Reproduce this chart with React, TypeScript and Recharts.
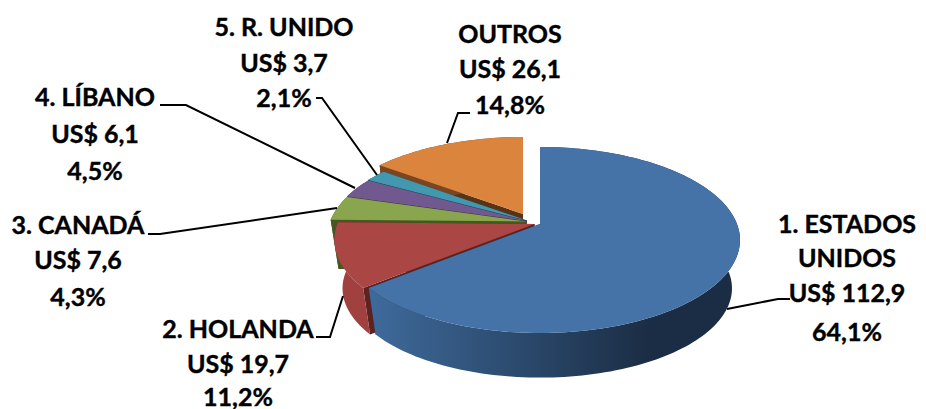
import React from "react";
import { PieChart, Pie } from "recharts";

// Painter's order: back slices first, counter-clockwise from 12 o'clock.
const sliceNames = ["OUTROS", "5. R. UNIDO", "4. LÍBANO", "3. CANADÁ", "2. HOLANDA", "1. ESTADOS UNIDOS"];
const sliceValues = [26.1, 3.7, 6.1, 7.6, 19.7, 112.9];
const slicePercents = ["14,8%", "2,1%", "4,5%", "4,3%", "11,2%", "64,1%"];

const data = sliceNames.map((name, i) => ({ name, value: sliceValues[i], percent: slicePercents[i] }));

// Styling and layout tables, by slice index
const topFill = ["#DB843D", "#4198AF", "#71588F", "#89A54E", "#AA4643", "#4572A7"];
const radialWall = ["#5a3216", "#1f5262", "#3b2c50", "#46571f", "#5e2220", "#22364f"];
const outerStops: string[][] = [
  ["#7a4520", "#7a4520"],
  ["#1f5262", "#1f5262"],
  ["#3b2c50", "#3b2c50"],
  ["#46571f", "#46571f"],
  ["#a1413f", "#8c3634"],
  ["#3e6a9b", "#1b2d44"],
];
const explode = [
  [-7, -8],
  [-3, -1.5],
  [-3, -1],
  [-3, -0.5],
  [4.5, 2],
  [10, 2],
];
const labelCenters = [510, 284, 95, 78, 238, 847];
const labelLineY: number[][] = [
  [33, 68, 104],
  [26, 62, 97],
  [96, 133, 170],
  [224, 259, 296],
  [328, 363, 396],
  [223, 257, 292, 331],
];
const leaders: number[][][] = [
  [[447, 143], [458, 113], [470, 113]],
  [[377, 175], [322, 98], [316, 98]],
  [[355, 188], [186, 105], [160, 105]],
  [[337, 208], [160, 234], [148, 234]],
  [[343, 296], [330, 337], [316, 337]],
  [[727, 309], [778, 299], [790, 299]],
];

const TILT = 0.458;
const PERSPECTIVE = 0.172;
const DEPTH = 49;
const BOTTOM_SCALE = 0.96;
const FONT = "Lato, 'Open Sans', sans-serif";

function project(aDeg: number, R: number, ax: number, ay: number, bottom: boolean) {
  const a = (aDeg * Math.PI) / 180;
  const u = Math.cos(a);
  const v = -Math.sin(a);
  const w = 1 - PERSPECTIVE * v;
  const s = bottom ? BOTTOM_SCALE : 1;
  return [ax + (s * R * u) / w, ay + (s * R * TILT * v) / w + (bottom ? DEPTH : 0)];
}

function arcPoints(a0: number, a1: number, R: number, ax: number, ay: number, bottom: boolean) {
  const n = Math.max(6, Math.ceil(Math.abs(a1 - a0) / 1.5));
  const out: number[][] = [];
  for (let i = 0; i <= n; i++) out.push(project(a0 + ((a1 - a0) * i) / n, R, ax, ay, bottom));
  return out;
}

const toPath = (pts: number[][]) =>
  "M" + pts.map((p) => `${p[0].toFixed(2)},${p[1].toFixed(2)}`).join("L") + "Z";

function SliceShape(props: any) {
  const { cx, cy, outerRadius, startAngle, endAngle, payload, name } = props;
  const idx = sliceNames.indexOf(payload?.name ?? name);
  const [ox, oy] = explode[idx];
  const ax = cx + ox;
  const ay = cy + oy;
  const top = arcPoints(startAngle, endAngle, outerRadius, ax, ay, false);
  const bot = arcPoints(startAngle, endAngle, outerRadius, ax, ay, true);
  const apexB = [ax, ay + DEPTH];
  const gid = `wall-${idx}`;
  return (
    <g>
      <defs>
        <linearGradient id={gid} gradientUnits="userSpaceOnUse" x1={ax - outerRadius * 0.85} y1={0} x2={ax + outerRadius * 0.55} y2={0}>
          <stop offset="0" stopColor={outerStops[idx][0]} />
          <stop offset="1" stopColor={outerStops[idx][1]} />
        </linearGradient>
      </defs>
      <path d={toPath([[ax, ay], top[0], bot[0], apexB])} fill={radialWall[idx]} />
      <path d={toPath([[ax, ay], top[top.length - 1], bot[bot.length - 1], apexB])} fill={radialWall[idx]} />
      <path d={toPath([...top, ...[...bot].reverse()])} fill={`url(#${gid})`} />
      <path d={toPath([[ax, ay], ...top])} fill={topFill[idx]} />
    </g>
  );
}

function SliceLabel(props: any) {
  const idx = sliceNames.indexOf(props.payload?.name ?? props.name);
  const name: string = sliceNames[idx];
  const nameLines = name === "1. ESTADOS UNIDOS" ? ["1. ESTADOS", "UNIDOS"] : [name];
  const lines = [...nameLines, `US$ ${sliceValues[idx].toFixed(1).replace(".", ",")}`, slicePercents[idx]];
  return (
    <g>
      {lines.map((t, i) => (
        <text
          key={i}
          x={labelCenters[idx]}
          y={labelLineY[idx][i]}
          textAnchor="middle"
          dominantBaseline="central"
          fontFamily={FONT}
          fontWeight={700}
          fontSize={25}
          stroke="#000"
          strokeWidth={0.4}
          fill="#000"
        >
          {t}
        </text>
      ))}
    </g>
  );
}

function SliceLeader(props: any) {
  const idx = sliceNames.indexOf(props.payload?.name ?? props.name);
  return (
    <polyline
      points={leaders[idx].map((p) => p.join(",")).join(" ")}
      fill="none"
      stroke="#000"
      strokeWidth={2}
    />
  );
}

export default function App() {
  return (
    <div style={{ position: "absolute", left: 0, top: 0, width: 926, height: 409, overflow: "hidden", background: "#fff" }}>
      <PieChart width={926} height={409} margin={{ top: 0, right: 0, bottom: 0, left: 0 }}>
        <Pie
          data={data}
          dataKey="value"
          nameKey="name"
          cx={530}
          cy={222}
          innerRadius={0}
          outerRadius={197}
          startAngle={90}
          endAngle={450}
          paddingAngle={0}
          stroke="none"
          isAnimationActive={false}
          shape={SliceShape}
          label={SliceLabel}
          labelLine={SliceLeader}
        />
      </PieChart>
    </div>
  );
}
